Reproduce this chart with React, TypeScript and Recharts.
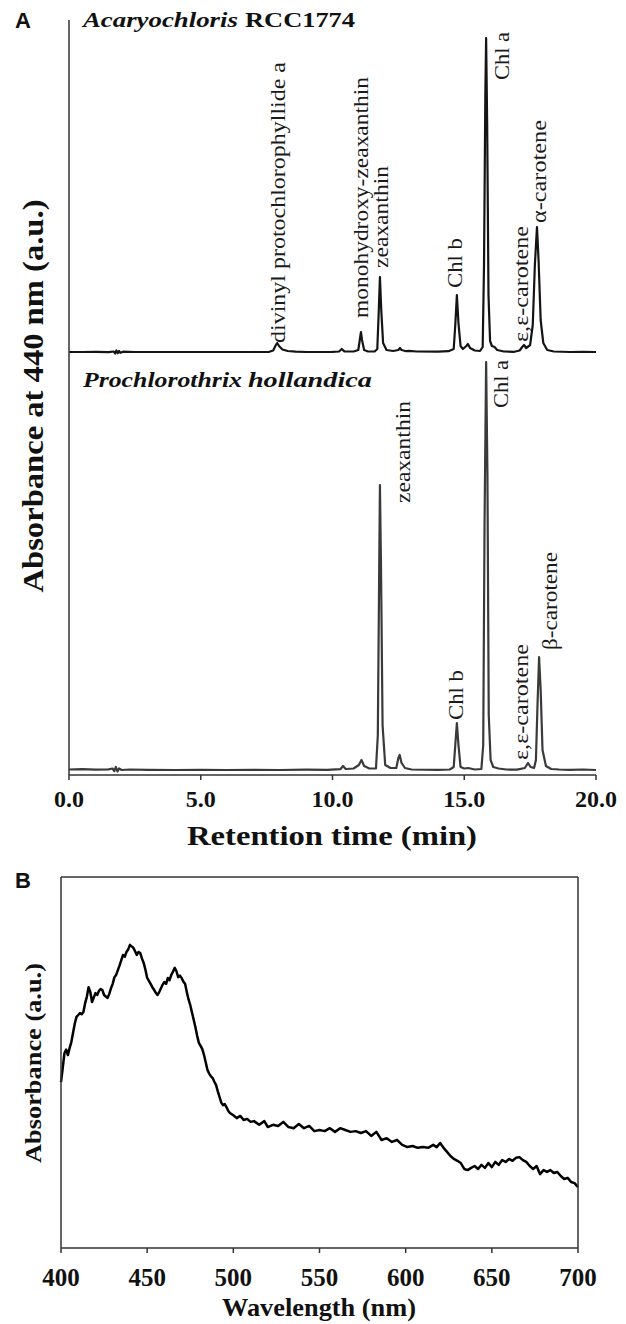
import React from 'react';
import { LineChart, Line, XAxis, YAxis, ReferenceDot } from 'recharts';

const SERIF = "'Liberation Serif', 'Times New Roman', serif";
const SANS = "'Liberation Sans', Arial, sans-serif";

// ---------- Panel A: HPLC chromatograms (retention time, min) ----------
const retentionTicks = [0, 5, 10, 15, 20];

// Acaryochloris RCC1774 trace: [time (min), absorbance (a.u.)]
const acaryochlorisTrace: [number, number][] = [
  [0, 3], [0.5, 3], [1.0, 3.2], [1.5, 2.8], [1.7, 3.5], [1.75, 1.5], [1.8, 4.5], [1.85, 1.8], [1.9, 4],
  [1.95, 2.2], [2.05, 3.3], [2.5, 3], [3, 3], [4, 3], [5, 3], [6, 3], [7, 3], [7.6, 3.2], [7.75, 4.5],
  [7.85, 10], [7.9, 12], [7.97, 9], [8.1, 5.5], [8.3, 4], [8.6, 3.3], [9, 3], [9.5, 3], [10, 3.2],
  [10.25, 3.5], [10.35, 6], [10.45, 3.6], [10.8, 3.5], [10.98, 5], [11.04, 16], [11.08, 23], [11.12, 15],
  [11.2, 5], [11.35, 3.5], [11.6, 3.5], [11.7, 6], [11.75, 40], [11.8, 78], [11.85, 45], [11.92, 12],
  [12.05, 5], [12.3, 4], [12.5, 5], [12.56, 7], [12.62, 5], [12.8, 3.8], [12.9, 4.2], [13.2, 3.5],
  [14, 3.3], [14.4, 3.8], [14.6, 6], [14.66, 30], [14.72, 60], [14.78, 32], [14.86, 9], [14.95, 6],
  [15.08, 9], [15.14, 11], [15.22, 7], [15.4, 4.5], [15.6, 4], [15.7, 8], [15.75, 90], [15.8, 260],
  [15.83, 317], [15.87, 230], [15.92, 60], [15.98, 14], [16.05, 9], [16.15, 8], [16.25, 5], [16.5, 3.5],
  [16.9, 3.2], [17.1, 4.5], [17.2, 8], [17.27, 10], [17.35, 7], [17.5, 10], [17.6, 30], [17.68, 90],
  [17.76, 128], [17.82, 95], [17.9, 35], [18.0, 12], [18.15, 5], [18.4, 3.5], [19, 3], [19.5, 3.2], [20, 3],
];

// Prochlorothrix hollandica trace
const prochlorothrixTrace: [number, number][] = [
  [0, 5.5], [0.5, 5.8], [1, 5.3], [1.5, 5.6], [1.65, 6.5], [1.72, 4], [1.78, 8], [1.84, 3.5], [1.9, 6.5],
  [2.0, 5], [2.3, 5.5], [3, 5.2], [4, 5], [5, 5.2], [6, 5], [7, 5.2], [8, 5], [9, 5.3], [9.8, 5.2],
  [10.3, 5.8], [10.4, 9], [10.5, 6], [10.8, 6.5], [11.0, 10], [11.1, 15], [11.2, 9], [11.4, 6.5],
  [11.65, 6.5], [11.72, 40], [11.77, 200], [11.8, 290], [11.84, 210], [11.9, 50], [12.0, 10], [12.2, 7],
  [12.42, 7], [12.5, 17], [12.55, 20], [12.62, 12], [12.75, 7], [13, 5.5], [14, 5.2], [14.45, 5.5],
  [14.6, 8], [14.66, 30], [14.72, 52], [14.78, 30], [14.86, 8], [15.0, 6.5], [15.15, 7], [15.4, 5.5],
  [15.65, 6], [15.72, 30], [15.77, 250], [15.83, 413], [15.88, 300], [15.93, 60], [16.0, 15], [16.1, 8],
  [16.3, 6.5], [16.6, 5.5], [17.0, 5.3], [17.3, 7], [17.42, 12], [17.52, 8], [17.65, 7], [17.72, 15],
  [17.78, 70], [17.84, 118], [17.9, 85], [17.97, 25], [18.1, 9], [18.3, 6], [18.6, 5.5], [19, 5.2],
  [19.5, 5.5], [20, 5],
];

// vertical offset used to stack the upper chromatogram above the lower one
const STACK_OFFSET = 420;

// peak annotations: [label, time, absorbance at label start]
const acaryochlorisPeaks: [string, number, number][] = [
  ['divinyl protochlorophyllide a', 7.93, 12],
  ['monohydroxy-zeaxanthin', 11.08, 37],
  ['zeaxanthin', 11.84, 87],
  ['Chl b', 14.65, 67],
  ['Chl a', 16.43, 275],
  ['ε,ε-carotene', 17.15, 13],
  ['α-carotene', 17.84, 132],
];
const prochlorothrixPeaks: [string, number, number][] = [
  ['zeaxanthin', 12.68, 272],
  ['Chl a', 16.39, 367],
  ['Chl b', 14.69, 55],
  ['ε,ε-carotene', 17.15, 15],
  ['β-carotene', 18.25, 125],
];

// ---------- Panel B: absorption spectrum ----------
const wavelengthTicks = [400, 450, 500, 550, 600, 650, 700];
const spectrum: [number, number][] = [
  [400, 44.7], [401, 48.5], [402, 52.5], [403, 53.5], [404, 52], [405, 53.9], [406, 55.5], [407, 58],
  [408, 60.5], [409, 62.3], [410, 62.8], [411, 63.3], [412, 63], [413, 63.6], [414, 66], [415, 67.7],
  [416, 70.3], [417, 69], [418, 66.3], [419, 67.5], [420, 68.7], [421, 68.2], [422, 69.3], [423, 69.8],
  [424, 69.5], [425, 68.2], [426, 67.8], [427, 67.4], [428, 68.5], [429, 70], [430, 71.2], [431, 73],
  [432, 73.6], [433, 74.9], [434, 76.2], [435, 77.6], [436, 79], [437, 78.5], [438, 79.8], [439, 80.5],
  [440, 81.7], [441, 81.3], [442, 80.9], [443, 80], [444, 79], [445, 79.8], [446, 79.5], [447, 78],
  [448, 76.8], [449, 75], [450, 72.8], [451, 72], [452, 71.2], [453, 70.3], [454, 69.6], [455, 68.8],
  [456, 68.2], [457, 69], [458, 70], [459, 71], [460, 71.7], [461, 71.2], [462, 72.8], [463, 72.2],
  [464, 73.6], [465, 74.5], [466, 75.5], [467, 74.6], [468, 73], [469, 73.4], [470, 72.8], [471, 71.8],
  [472, 71.2], [473, 69], [474, 67], [475, 65.5], [476, 63.5], [477, 61.5], [478, 59.5], [479, 57.2],
  [480, 55.3], [481, 54.5], [482, 53.6], [483, 52], [484, 50], [485, 48], [486, 47], [487, 46.3],
  [488, 45.8], [489, 44.8], [490, 43.9], [491, 42.2], [492, 40.7], [493, 39.2], [494, 38.5], [495, 38.8],
  [496, 38], [497, 37], [498, 36.4], [500, 35.8], [502, 35], [504, 35.6], [506, 34.5], [508, 34.8],
  [510, 34], [512, 34.2], [515, 33.2], [518, 34.2], [520, 32.6], [523, 33.2], [526, 32.9], [529, 34],
  [532, 32.6], [535, 32.3], [538, 33.4], [541, 32.3], [544, 32.9], [547, 31.5], [550, 31.8], [553, 31.5],
  [556, 32.3], [559, 31.3], [562, 32.3], [565, 31.8], [568, 31.3], [571, 31.5], [574, 31], [577, 31.5],
  [580, 30.2], [583, 31.3], [586, 29.1], [589, 29.6], [592, 28.6], [595, 29.1], [598, 27.8], [601, 27.2],
  [604, 27.5], [607, 27], [610, 27.2], [613, 27], [616, 27.8], [618, 27.2], [620, 28.3], [622, 27],
  [624, 25.9], [626, 24.8], [628, 24], [630, 23.5], [632, 22.9], [634, 21.3], [636, 21], [638, 21.6],
  [640, 22.1], [642, 21.3], [644, 22.4], [646, 21.6], [648, 22.9], [650, 21.8], [652, 23.2], [654, 22.4],
  [656, 23.7], [658, 23.2], [660, 24], [662, 23.5], [664, 24.3], [666, 24.5], [668, 23.7], [670, 23.2],
  [672, 22.1], [674, 21.3], [676, 22.1], [678, 19.9], [680, 21], [682, 20.5], [684, 21], [686, 20.2],
  [688, 20.5], [690, 19.4], [692, 18.6], [694, 18.9], [696, 17.8], [698, 17.5], [700, 16.4],
];

// ---------- styling (text lengths, in px) ----------
const labelLength: Record<string, number> = {
  'divinyl protochlorophyllide a': 281,
  'monohydroxy-zeaxanthin': 241,
  'zeaxanthin': 102,
  'Chl b': 50,
  'Chl a': 48,
  'ε,ε-carotene': 116,
  'α-carotene': 103,
  'β-carotene': 98,
};

const topRows = acaryochlorisTrace.map(([t, v]) => ({ t, v: v + STACK_OFFSET }));
const bottomRows = prochlorothrixTrace.map(([t, v]) => ({ t, v }));
const spectrumRows = spectrum.map(([nm, a]) => ({ nm, a }));

const rotatedLabel = (text: string) => (p: any) => {
  const { cx, cy } = p;
  if (cx == null || cy == null) return <g />;
  return (
    <text
      x={cx}
      y={cy}
      transform={`rotate(-90 ${cx} ${cy})`}
      textAnchor="start"
      dominantBaseline="central"
      fontFamily={SERIF}
      fontSize={20}
      fill="#1a1a1a"
      textLength={labelLength[text]}
      lengthAdjust="spacingAndGlyphs"
    >
      {text}
    </text>
  );
};

const speciesLabel = (text: string, italic: boolean, len: number) => (p: any) => {
  const { cx, cy } = p;
  if (cx == null || cy == null) return <g />;
  return (
    <text
      x={cx}
      y={cy}
      textAnchor="start"
      fontFamily={SERIF}
      fontWeight="bold"
      fontStyle={italic ? 'italic' : 'normal'}
      fontSize={22}
      fill="#111"
      textLength={len}
      lengthAdjust="spacingAndGlyphs"
    >
      {text}
    </text>
  );
};

const tickA = (p: any) => (
  <text
    x={p.x}
    y={p.y + 25}
    textAnchor="middle"
    fontFamily={SERIF}
    fontWeight="bold"
    fontSize={24}
    fill="#111"
  >
    {Number(p.payload.value).toFixed(1)}
  </text>
);

const tickB = (p: any) => (
  <text
    x={p.x}
    y={p.y + 31}
    textAnchor="middle"
    fontFamily={SERIF}
    fontWeight="bold"
    fontSize={25}
    fill="#111"
  >
    {p.payload.value}
  </text>
);

const xTitleA = () => (
  <text x={324} y={837} textAnchor="middle" fontFamily={SERIF} fontWeight="bold" fontSize={27}
    fill="#111" textLength={290} lengthAdjust="spacingAndGlyphs">
    Retention time (min)
  </text>
);

const yTitleA = () => (
  <g>
    <text x={7} y={20} fontFamily={SANS} fontWeight="bold" fontSize={22} fill="#111">A</text>
    <text x={24} y={388} transform="rotate(-90 24 388)" textAnchor="middle" dominantBaseline="central"
      fontFamily={SERIF} fontWeight="bold" fontSize={30} fill="#111" textLength={393}
      lengthAdjust="spacingAndGlyphs">
      Absorbance at 440 nm (a.u.)
    </text>
  </g>
);

const xTitleB = () => (
  <text x={311} y={458} textAnchor="middle" fontFamily={SERIF} fontWeight="bold" fontSize={25}
    fill="#111" textLength={194} lengthAdjust="spacingAndGlyphs">
    Wavelength (nm)
  </text>
);

const yTitleB = () => (
  <g>
    <text x={7} y={30} fontFamily={SANS} fontWeight="bold" fontSize={22} fill="#111">B</text>
    <text x={25} y={205} transform="rotate(-90 25 205)" textAnchor="middle" dominantBaseline="central"
      fontFamily={SERIF} fontWeight="bold" fontSize={24} fill="#111" textLength={200}
      lengthAdjust="spacingAndGlyphs">
      Absorbance (a.u.)
    </text>
  </g>
);

const axisStyle = { stroke: '#333', strokeWidth: 1.5 };

export default function App() {
  return (
    <div style={{ width: 610 }}>
      <LineChart width={610} height={850} margin={{ top: 12, right: 22, left: 60, bottom: 0 }}>
        <XAxis
          type="number"
          dataKey="t"
          domain={[0, 20]}
          ticks={retentionTicks}
          interval={0}
          height={83}
          tickSize={5}
          axisLine={axisStyle}
          tickLine={axisStyle}
          tick={tickA}
          label={xTitleA}
        />
        <YAxis
          type="number"
          domain={[0, 755]}
          width={1}
          tick={false}
          tickLine={false}
          axisLine={axisStyle}
          label={yTitleA}
        />
        <Line data={bottomRows} dataKey="v" type="linear" dot={false} stroke="#3a3a3a" strokeWidth={2.2}
          strokeLinejoin="round" isAnimationActive={false} />
        <Line data={topRows} dataKey="v" type="linear" dot={false} stroke="#141414" strokeWidth={2.2}
          strokeLinejoin="round" isAnimationActive={false} />
        {acaryochlorisPeaks.map(([name, t, v]) => (
          <ReferenceDot key={'a' + name} x={t} y={v + STACK_OFFSET} r={0} shape={rotatedLabel(name)} />
        ))}
        {prochlorothrixPeaks.map(([name, t, v]) => (
          <ReferenceDot key={'p' + name} x={t} y={v} r={0} shape={rotatedLabel(name)} />
        ))}
        <ReferenceDot x={0.53} y={748} r={0} shape={speciesLabel('Acaryochloris', true, 155)} />
        <ReferenceDot x={6.68} y={748} r={0} shape={speciesLabel('RCC1774', false, 110)} />
        <ReferenceDot x={0.53} y={388} r={0} shape={speciesLabel('Prochlorothrix', true, 159)} />
        <ReferenceDot x={6.79} y={388} r={0} shape={speciesLabel('hollandica', true, 124)} />
      </LineChart>
      <LineChart width={610} height={466} data={spectrumRows}
        margin={{ top: 18, right: 39, left: 52, bottom: 0 }}>
        <XAxis
          type="number"
          dataKey="nm"
          domain={[400, 700]}
          ticks={wavelengthTicks}
          interval={0}
          height={76}
          tickSize={5}
          axisLine={axisStyle}
          tickLine={axisStyle}
          tick={tickB}
          label={xTitleB}
        />
        <XAxis xAxisId="top" orientation="top" type="number" dataKey="nm" domain={[400, 700]}
          height={1} tick={false} tickLine={false} axisLine={axisStyle} />
        <YAxis type="number" domain={[0, 100]} width={1} tick={false} tickLine={false}
          axisLine={axisStyle} label={yTitleB} />
        <YAxis yAxisId="right" orientation="right" type="number" domain={[0, 100]} width={1}
          tick={false} tickLine={false} axisLine={axisStyle} />
        <Line dataKey="a" type="linear" dot={false} stroke="#000" strokeWidth={2.5}
          strokeLinejoin="round" isAnimationActive={false} />
      </LineChart>
    </div>
  );
}
